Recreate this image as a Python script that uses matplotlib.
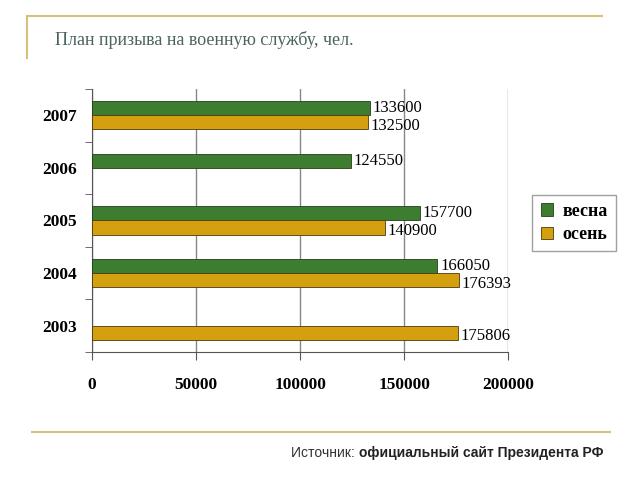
import matplotlib.pyplot as plt
import numpy as np
from matplotlib.lines import Line2D
from matplotlib.patches import Patch

# Data
years = ['2003', '2004', '2005', '2006', '2007']
spring = [0, 166050, 157700, 124550, 133600]   # весна (2003 - нет данных)
autumn = [175806, 176393, 140900, 0, 132500]   # осень (2006 - нет данных)
x_ticks = [0, 50000, 100000, 150000, 200000]

green = '#3C7D30'
gold = '#D4A010'
line_gold = '#D8C07A'

fig = plt.figure(figsize=(6.4, 4.8), dpi=100)
ax = fig.add_axes([0.1438, 0.2667, 0.6500, 0.5479])

y = np.arange(len(years))
h = 0.27
lbl = dict(va='center', ha='left', fontsize=12, family='Liberation Serif', zorder=4)
for i in range(len(years)):
    if spring[i] > 0:
        ax.barh(y[i] + h / 2, spring[i], height=h, color=green, edgecolor='#2a3a20', linewidth=0.6, zorder=3)
        ax.annotate(str(spring[i]), (spring[i], y[i] + h / 2), xytext=(2, 0),
                    textcoords='offset points', **lbl)
    if autumn[i] > 0:
        ax.barh(y[i] - h / 2, autumn[i], height=h, color=gold, edgecolor='#4a3a10', linewidth=0.6, zorder=3)
        ax.annotate(str(autumn[i]), (autumn[i], y[i] - h / 2), xytext=(2, -2.5),
                    textcoords='offset points', **lbl)

ax.set_xlim(0, 200000)
ax.set_ylim(-0.5, len(years) - 0.5)
ax.set_xticks(x_ticks)
ax.set_xticklabels([str(t) for t in x_ticks], family='Liberation Serif', fontweight='bold', fontsize=12.5)
ax.set_yticks(y)
ax.set_yticklabels(years, family='Liberation Serif', fontweight='bold', fontsize=12.5)
ax.tick_params(axis='y', length=0, pad=11)
ax.tick_params(axis='x', length=6, pad=12, color='#555555')
# minor ticks on category boundaries
ax.set_yticks(np.arange(-0.5, len(years)), minor=True)
ax.tick_params(axis='y', which='minor', length=5, color='#555555')
ax.grid(axis='x', color='#888888', linewidth=1.0, zorder=0)
for s in ['top', 'right']:
    ax.spines[s].set_visible(False)
ax.spines['left'].set_color('#555555')
ax.spines['bottom'].set_color('#555555')

# legend
handles = [Patch(facecolor=green, edgecolor='#2a3a20', linewidth=0.6, label='весна'),
           Patch(facecolor=gold, edgecolor='#4a3a10', linewidth=0.6, label='осень')]
fig.legend(handles=handles, loc='center', bbox_to_anchor=(0.897, 0.535), frameon=True, fancybox=False,
           edgecolor='#888888', prop={'family': 'Liberation Serif', 'weight': 'bold', 'size': 13},
           handlelength=0.7, handleheight=0.7, handletextpad=0.5, borderpad=0.45, labelspacing=0.35)

# decorations
fig.add_artist(Line2D([27 / 640, 602 / 640], [1 - 16 / 480, 1 - 16 / 480], color=line_gold, lw=1.5))
fig.add_artist(Line2D([27 / 640, 27 / 640], [1 - 16 / 480, 1 - 58 / 480], color=line_gold, lw=1.5))
fig.add_artist(Line2D([32 / 640, 610 / 640], [1 - 432 / 480, 1 - 432 / 480], color=line_gold, lw=1.5))

fig.text(55 / 640, 1 - 40 / 480, 'План призыва на военную службу, чел.', family='Liberation Serif',
         fontsize=13, color='#4B6460', va='center', ha='left')
src1 = fig.text(291 / 640, 1 - 453 / 480, 'Источник: ', family='Liberation Sans', fontsize=10,
                color='#333333', va='center', ha='left')
fig.canvas.draw()
bb = src1.get_window_extent()
fig.text(bb.x1 / fig.bbox.width, 1 - 453 / 480, 'официальный сайт Президента РФ', family='Liberation Sans',
         fontsize=10, fontweight='bold', color='#222222', va='center', ha='left')

fig.savefig('out.png', dpi=100)
